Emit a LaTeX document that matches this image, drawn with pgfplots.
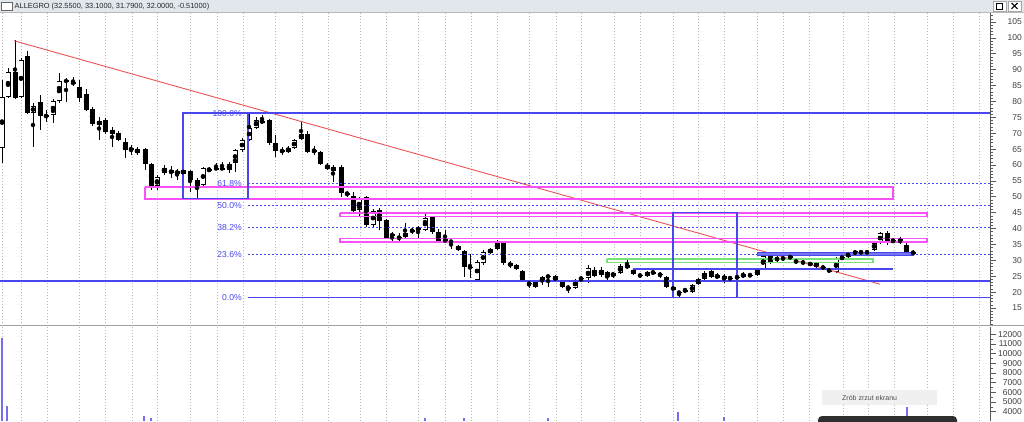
\documentclass[border=0pt]{standalone}
\usepackage{pgfplots}
\pgfplotsset{compat=1.18}
\usepackage{pgfplotstable}
\usepackage{fontspec}
\setmainfont{Liberation Sans}

\definecolor{fibblue}{RGB}{72,72,238}
\definecolor{fibpink}{RGB}{250,80,250}
\definecolor{fibgreen}{RGB}{120,225,120}
\definecolor{trendred}{RGB}{236,84,84}
\definecolor{volblue}{RGB}{120,110,235}
\definecolor{titlebar}{RGB}{226,231,238}
\definecolor{axisgray}{RGB}{90,90,90}

% weekly candles, white (close > open)
\pgfplotstableread{
x o h l c
2 65.35 86.75 60.63 81.39
8 81.39 90.52 81.08 89.26
21 81.39 93.67 81.08 93.04
33 76.36 79.51 65.67 78.57
53 75.73 80.77 73.22 80.14
59 80.14 88.95 79.51 86.43
99 72.59 75.11 67.87 73.85
137 63.78 65.67 63.15 65.04
157 53.39 56.86 52.13 56.23
164 57.48 60.00 56.86 59.06
177 57.17 58.74 55.28 58.11
183 57.17 59.06 56.54 58.43
203 53.71 59.37 53.39 59.06
209 58.11 59.37 57.80 58.74
229 58.43 60.95 57.48 60.32
235 60.63 65.04 57.80 64.72
242 64.72 68.50 64.09 67.87
249 67.87 76.36 67.55 71.64
256 71.64 75.11 71.33 74.16
262 73.53 75.73 73.22 73.85
288 64.09 65.98 63.78 65.35
294 65.35 68.18 65.04 67.87
301 68.18 73.53 67.87 69.76
314 64.09 65.98 63.15 64.72
333 58.11 60.00 54.65 59.37
359 45.84 49.93 43.64 49.62
373 41.12 46.16 40.49 45.53
405 37.34 41.75 37.03 38.60
418 39.55 40.81 37.03 40.18
425 39.55 44.90 39.23 43.32
477 23.82 30.11 23.19 29.48
483 29.17 33.25 28.54 32.63
490 32.31 33.88 32.00 33.57
497 33.57 36.40 33.25 35.46
535 21.61 23.50 21.30 23.19
542 23.19 25.08 22.24 24.76
548 24.76 25.39 21.61 25.08
575 21.30 24.13 20.98 23.82
581 24.13 24.76 23.19 24.45
588 24.45 28.54 22.87 27.59
601 25.39 27.91 24.76 26.96
613 25.08 26.33 24.45 26.02
620 26.02 28.85 25.71 28.22
647 25.08 26.65 24.76 26.33
653 26.02 26.65 25.71 26.33
685 20.35 21.30 20.04 20.67
692 20.04 22.56 19.73 22.24
698 22.56 24.45 22.24 24.13
704 24.13 26.65 23.82 26.02
717 24.45 26.02 24.13 25.39
743 24.76 26.33 24.45 25.71
757 25.39 27.59 25.08 26.96
763 27.28 32.31 26.96 31.37
777 30.11 31.37 29.48 30.74
836 26.33 31.05 26.02 30.42
842 30.42 31.68 30.11 31.05
848 31.05 32.63 30.74 32.31
855 32.00 33.25 31.68 32.94
874 33.25 36.09 32.94 35.46
880 35.46 38.92 35.14 38.60
893 35.77 37.03 35.46 36.40
}\upc

% weekly candles, black (close <= open)
\pgfplotstableread{
x o h l c
15 89.26 99.33 80.77 81.08
27 94.30 95.87 76.05 76.36
40 79.82 82.02 71.01 75.42
46 75.73 77.31 73.53 75.11
66 86.75 87.38 79.82 86.12
73 86.12 87.69 84.86 85.49
79 84.54 86.75 79.82 81.08
86 82.34 83.92 76.99 77.31
92 77.62 78.25 72.27 72.90
105 74.16 74.79 69.76 70.38
112 71.01 71.96 65.67 69.76
118 70.07 70.70 67.55 67.87
125 67.24 68.50 62.20 64.72
131 65.35 66.29 63.15 64.72
145 65.04 65.35 58.43 60.32
151 60.32 60.63 52.13 53.08
171 58.43 59.69 55.91 57.48
190 58.11 58.43 51.51 55.28
197 55.28 55.91 49.62 53.39
216 59.06 60.63 58.43 58.74
222 59.06 60.95 58.43 58.74
269 74.16 74.48 66.29 66.92
275 66.92 69.44 62.52 64.41
282 64.72 65.67 63.15 64.09
307 69.76 70.70 63.78 64.09
320 64.09 64.41 60.00 60.32
327 60.00 60.63 58.43 58.74
341 59.37 60.00 49.93 51.19
347 51.19 51.82 49.93 50.88
353 50.25 51.51 45.21 45.53
366 49.93 50.25 40.49 41.12
379 45.84 46.47 39.55 42.38
386 42.69 43.01 36.72 37.03
392 38.29 38.92 35.46 37.66
399 37.34 38.60 35.46 37.03
412 39.55 40.18 38.29 39.23
432 43.64 43.95 38.29 38.92
438 38.92 39.86 35.46 35.77
445 36.72 39.55 35.46 35.77
451 36.09 36.40 33.57 35.77
458 34.51 34.83 32.94 33.25
464 32.94 33.25 24.76 27.91
470 27.91 32.00 24.45 27.59
503 35.46 35.77 28.54 29.17
510 29.17 29.80 27.59 28.22
516 28.54 28.85 26.96 27.28
522 26.65 26.96 23.19 23.50
529 22.87 23.50 21.30 22.56
555 25.08 25.39 23.19 23.50
562 23.19 23.50 21.30 21.61
568 21.61 22.24 19.73 21.30
594 26.96 27.91 24.76 25.08
607 26.33 26.65 23.19 24.76
627 28.54 30.42 27.28 27.59
633 26.96 27.28 25.39 25.71
640 25.39 26.02 24.45 25.08
660 25.71 26.33 24.45 25.39
666 24.76 25.08 21.30 21.61
673 21.61 21.93 20.35 20.67
679 20.04 20.35 18.47 19.73
711 26.65 27.59 24.45 24.76
724 25.08 25.71 22.87 24.13
730 24.45 25.08 23.82 24.13
737 24.76 25.39 24.13 24.45
750 25.39 26.02 24.76 25.08
770 31.37 32.63 28.85 29.17
783 30.74 31.37 29.80 30.42
790 31.37 32.00 30.11 30.42
796 29.80 30.42 28.85 29.48
803 29.48 30.11 28.54 29.17
810 29.17 29.48 28.22 28.54
816 29.17 29.48 27.59 27.91
823 27.91 28.54 26.96 27.59
829 27.28 27.59 26.02 26.33
861 32.63 33.25 32.00 32.31
867 32.63 33.25 32.00 32.31
887 38.60 39.23 34.83 35.46
900 36.72 37.34 35.14 35.46
906 34.83 35.46 32.31 32.63
913 32.55 33.10 31.79 32.00
}\dnc

\pgfplotsset{
  bars/.style={only marks, mark=none, forget plot,
    error bars/.cd, y dir=both, y explicit, error mark=none,
    error bar style={#1}},
  rightaxis/.style={scale only axis, width=990pt, xmin=0, xmax=990,
    axis x line=none, axis y line*=right, xtick=\empty,
    tick align=outside, major tick length=6pt, minor tick length=3pt,
    tick style={axisgray, line width=0.6pt},
    axis line style={axisgray, line width=0.8pt},
    /pgf/number format/assume math mode=true,
    /pgf/number format/1000 sep={}, scaled y ticks=false,
    yticklabel style={font=\fontsize{8.5}{9}\selectfont, text=black!75,
      anchor=east, inner sep=0pt, xshift=26pt}},
  vgrid/.style={ycomb, gray!55, line width=0.7pt, dash pattern=on 1pt off 2pt, forget plot},
  fiblevel/.style={color=fibblue, line width=1.3pt},
  fibdots/.style={color=fibblue, line width=1.5pt, dash pattern=on 2pt off 2pt},
  zone/.style={color=#1, line width=1.3pt},
}

\begin{document}
\begin{tikzpicture}[x=1pt,y=1pt]
\useasboundingbox (0,0) rectangle (1024,421);
\fill[white] (0,0) rectangle (1024,421);

% price panel
\begin{axis}[rightaxis, at={(0pt,95pt)}, anchor=south west, height=314pt,
  ymin=9.34, ymax=108.15, ytick={15,20,...,105}, minor ytick={10,11,...,108}]
\addplot[vgrid] coordinates {(2,110)(21,110)(47,110)(79,110)(105,110)(132,110)
  (157,110)(190,110)(217,110)(243,110)(275,110)(302,110)(328,110)(360,110)
  (386,110)(418,110)(445,110)(471,110)(497,110)(529,110)(556,110)(581,110)
  (614,110)(640,110)(673,110)(698,110)(724,110)(757,110)(783,110)(809,110)
  (843,110)(868,110)(894,110)(927,110)(953,110)(979,110)};

% wicks
\addplot[bars={black, line width=1pt}] table[x=x, y expr={(\thisrow{h}+\thisrow{l})/2},
  y error expr={(\thisrow{h}-\thisrow{l})/2}] {\upc};
\addplot[bars={black, line width=1pt}] table[x=x, y expr={(\thisrow{h}+\thisrow{l})/2},
  y error expr={(\thisrow{h}-\thisrow{l})/2}] {\dnc};
% bodies
\addplot[bars={black, line width=5pt}] table[x=x, y expr={(\thisrow{o}+\thisrow{c})/2},
  y error expr={max((\thisrow{o}-\thisrow{c})/2,0.17)}] {\dnc};
\addplot[bars={black, line width=5pt}] table[x=x, y expr={(\thisrow{o}+\thisrow{c})/2},
  y error expr={max((\thisrow{c}-\thisrow{o})/2,0.17)}] {\upc};
\addplot[bars={white, line width=3.2pt}] table[x=x, y expr={(\thisrow{o}+\thisrow{c})/2},
  y error expr={max((\thisrow{c}-\thisrow{o})/2-0.28,0)}] {\upc};

% drawn studies
\addplot[trendred, line width=0.9pt] coordinates {(14,99.1)(880,22.5)};
\addplot[zone=fibgreen] coordinates {(607,30.4)(873,30.4)(873,29.3)(607,29.3)(607,30.4)};
\addplot[zone=fibpink] coordinates {(145,53.1)(893,53.1)(893,49.3)(145,49.3)(145,53.1)};
\addplot[zone=fibpink] coordinates {(340,44.9)(927,44.9)(927,43.9)(340,43.9)(340,44.9)};
\addplot[zone=fibpink] coordinates {(340,36.9)(927,36.9)(927,35.8)(340,35.8)(340,36.9)};
\addplot[fiblevel] coordinates {(183,49.4)(183,76.4)(990,76.4)};
\addplot[fiblevel] coordinates {(183,49.4)(248,49.4)(248,76.4)};
\addplot[fiblevel] coordinates {(248,18.2)(990,18.2)};
\addplot[fiblevel] coordinates {(0,23.5)(990,23.5)};
\addplot[fibdots] coordinates {(248,54.2)(990,54.2)};
\addplot[fibdots] coordinates {(248,47.3)(990,47.3)};
\addplot[fibdots] coordinates {(248,40.3)(990,40.3)};
\addplot[fibdots] coordinates {(248,31.9)(990,31.9)};
\addplot[fiblevel] coordinates {(673,18.3)(673,45.0)(737,45.0)(737,18.3)(673,18.3)};
\addplot[color=fibblue, line width=1.8pt] coordinates {(633,27.2)(893,27.2)};
\addplot[color=fibblue, fill=fibblue!75, line width=0.6pt] coordinates {(757,32.5)(913,32.5)(913,31.5)(757,31.5)(757,32.5)};

\begin{scope}[every node/.style={anchor=east, inner sep=0pt, text=fibblue,
    font=\fontsize{8.6}{9}\selectfont}]
\node at (axis cs:242,76.1) {100.0\%};
\node at (axis cs:242,54.3) {61.8\%};
\node at (axis cs:242,47.3) {50.0\%};
\node at (axis cs:242,40.3) {38.2\%};
\node at (axis cs:242,31.9) {23.6\%};
\node at (axis cs:242,18.2) {0.0\%};
\end{scope}
\end{axis}

% volume panel
\begin{axis}[rightaxis, at={(0pt,0pt)}, anchor=south west, height=94pt,
  ymin=3034, ymax=12755, ytick={4000,5000,...,12000}, minor y tick num=1]
\addplot[vgrid] coordinates {(2,13000)(21,13000)(47,13000)(79,13000)(105,13000)(132,13000)
  (157,13000)(190,13000)(217,13000)(243,13000)(275,13000)(302,13000)(328,13000)(360,13000)
  (386,13000)(418,13000)(445,13000)(471,13000)(497,13000)(529,13000)(556,13000)(581,13000)
  (614,13000)(640,13000)(673,13000)(698,13000)(724,13000)(757,13000)(783,13000)(809,13000)
  (843,13000)(868,13000)(894,13000)(927,13000)(953,13000)(979,13000)};
\addplot[ycomb, volblue, line width=1.2pt] coordinates {(2,11650)(7,4590)(144,3550)(151,3340)
  (425,3340)(464,3340)(548,3340)(678,4000)(724,3450)(907,4520)};
\end{axis}

% panel separator and title bar
\draw[gray!75, line width=1.6pt] (0,95.5) -- (1024,95.5);
\fill[titlebar] (0,409) rectangle (1024,421);
\draw[gray!55] (0,409) -- (1024,409);
\draw[gray!80!black, fill=white, line width=0.6pt] (1,410.5) rectangle (12.5,419);
\node[anchor=west, inner sep=0pt, text=black!85, font=\fontsize{7.4}{8}\selectfont]
  at (14.5,414.8) {ALLEGRO (32.5500, 33.1000, 31.7900, 32.0000, -0.51000)};
\draw[gray!70, fill=white, line width=0.5pt] (993,410) rectangle (1006,420);
\draw[black, line width=0.7pt] (996.5,412) rectangle (1002.5,418);
\draw[gray!70, fill=white, line width=0.5pt] (1008,410) rectangle (1021,420);
\draw[black, line width=1.1pt] (1011.5,412.2) -- (1017.5,418) (1011.5,418) -- (1017.5,412.2);

% screenshot tooltip
\fill[gray!12] (822,16) rectangle (937,31);
\node[anchor=west, inner sep=0pt, text=black!70, font=\fontsize{7}{7}\selectfont]
  at (842,23.5) {Zrób zrzut ekranu};
\fill[black!82, rounded corners=4pt] (818,-6) rectangle (957,5);
\end{tikzpicture}
\end{document}
